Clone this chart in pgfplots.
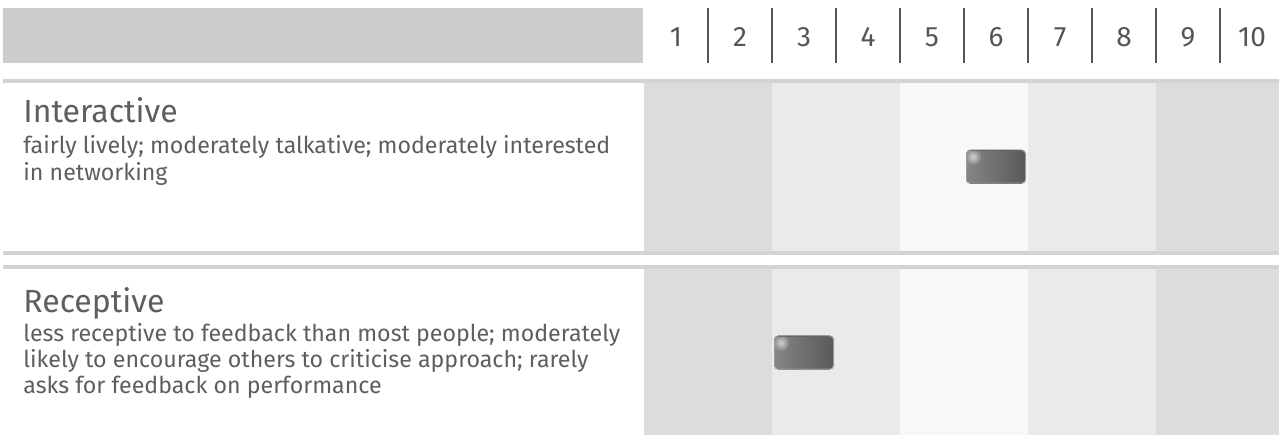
\documentclass[border=0pt]{standalone}
\usepackage{fontspec}
\setmainfont{Fira Sans}
\usepackage{pgfplots}
\pgfplotsset{compat=1.18}
\usetikzlibrary{fadings}
\definecolor{hdr}{HTML}{CCCCCC}
\definecolor{sep}{HTML}{D3D3D3}
\definecolor{bandA}{HTML}{DCDCDC}
\definecolor{bandB}{HTML}{EAEAEA}
\definecolor{bandC}{HTML}{F8F8F8}
\definecolor{txt}{HTML}{5E5E5E}
\definecolor{num}{HTML}{555555}
\definecolor{mkL}{HTML}{858583}
\definecolor{mkR}{HTML}{595957}
\definecolor{mkB}{HTML}{9A9A9A}
\tikzfading[name=glow, inner color=transparent!35, outer color=transparent!100]
\pgfdeclareplotmark{pill}{%
  \begin{scope}
  \clip[rounded corners=2pt] (-14.75pt,-8.25pt) rectangle (14.75pt,8.25pt);
  \shade[left color=mkL, right color=mkR] (-14.75pt,-8.25pt) rectangle (14.75pt,8.25pt);
  \fill[white, path fading=glow] (-11.5pt,5pt) circle (4pt);
  \end{scope}
  \draw[mkB, line width=0.5pt, rounded corners=2pt] (-14.75pt,-8.25pt) rectangle (14.75pt,8.25pt);
}
\pgfplotstableread{
score rowy
6 166.7
}\interactive
\pgfplotstableread{
score rowy
3 352.5
}\receptive
\begin{document}
\begin{tikzpicture}[x=0.5pt,y=-0.5pt]
% header
\fill[hdr] (3,8) rectangle (643,63);
\foreach \i in {1,...,10}{
  \node[num, font=\fontsize{14pt}{16pt}\selectfont, anchor=center] at ({644+(\i-0.5)*64},37) {\i};
}
\foreach \i in {1,...,9}{
  \draw[num, line width=1pt] ({644+\i*64},8) -- ({644+\i*64},63);
}
\fill[sep] (3,79) rectangle (1279,83);
% row 1 bands
\fill[bandA] (644,83) rectangle (772,251);
\fill[bandB] (772,83) rectangle (900,251);
\fill[bandC] (900,83) rectangle (1028,251);
\fill[bandB] (1028,83) rectangle (1156,251);
\fill[bandA] (1156,83) rectangle (1279,251);
\fill[sep] (3,251) rectangle (1279,255);
\fill[sep] (3,265) rectangle (1279,269);
% row 2 bands
\fill[bandA] (644,269) rectangle (772,435);
\fill[bandB] (772,269) rectangle (900,435);
\fill[bandC] (900,269) rectangle (1028,435);
\fill[bandB] (1028,269) rectangle (1156,435);
\fill[bandA] (1156,269) rectangle (1279,435);
% texts
\begin{scope}[every node/.style={anchor=base west, inner sep=0pt, text=txt}]
\node[font=\fontsize{16pt}{18pt}\selectfont] at (23,122) {Interactive};
\node[font=\fontsize{11.6pt}{13pt}\selectfont] at (23,153) {fairly lively; moderately talkative; moderately interested};
\node[font=\fontsize{11.6pt}{13pt}\selectfont] at (23,180) {in networking};
\node[font=\fontsize{16pt}{18pt}\selectfont] at (23,312) {Receptive};
\node[font=\fontsize{11.6pt}{13pt}\selectfont] at (23,341) {less receptive to feedback than most people; moderately};
\node[font=\fontsize{11.6pt}{13pt}\selectfont] at (23,367) {likely to encourage others to criticise approach; rarely};
\node[font=\fontsize{11.6pt}{13pt}\selectfont] at (23,393) {asks for feedback on performance};
\end{scope}
\begin{axis}[at={(0pt,-217.5pt)}, anchor=south west,
  scale only axis, width=639.5pt, height=217.5pt,
  xmin=-9.5625, xmax=10.421875, ymin=0, ymax=435, y dir=reverse,
  hide axis, clip=false]
\addplot[only marks, mark=pill] table[x=score, y=rowy] {\interactive};
\addplot[only marks, mark=pill] table[x=score, y=rowy] {\receptive};
\end{axis}
\pgfresetboundingbox
\path (0,0) rectangle (1279,435);
\end{tikzpicture}
\end{document}
